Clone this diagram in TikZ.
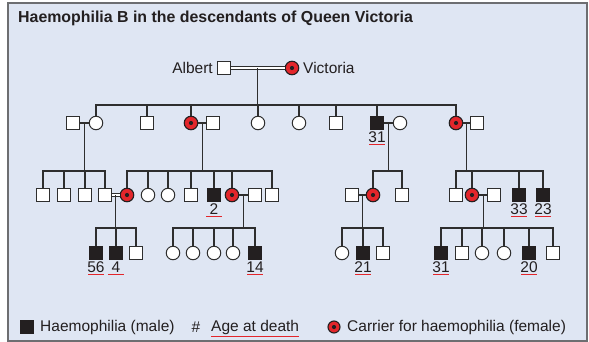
\documentclass[tikz,border=0pt]{standalone}
\usepackage{fontspec}
\setmainfont{Liberation Sans}
\usetikzlibrary{calc}
\definecolor{bg}{HTML}{DFE6F3}
\definecolor{framec}{HTML}{6D6E71}
\definecolor{ln}{HTML}{2E2E2E}
\definecolor{aff}{HTML}{231F20}
\definecolor{car}{HTML}{E3262B}
\begin{document}
\begin{tikzpicture}[x=1pt,y=-1pt,
  male/.style={rectangle,draw=ln,line width=1pt,fill=white,minimum size=12.5pt,inner sep=0pt},
  hemo/.style={male,fill=aff,draw=aff},
  female/.style={circle,draw=ln,line width=1pt,fill=white,minimum size=13.5pt,inner sep=0pt},
  carrier/.style={circle,draw=aff,line width=1.1pt,fill=car,minimum size=13.5pt,inner sep=0pt,
    path picture={\fill[aff] (path picture bounding box.center) circle (2.1pt);}},
  rel/.style={draw=ln,line width=1.35pt},
  dbl/.style={draw=ln,line width=1pt,double=white,double distance=2pt},
  txt/.style={font=\fontsize{15.5}{18}\selectfont,inner sep=0pt,text=aff},
  uline/.style={draw=car,line width=1pt}
]
\useasboundingbox (0,0) rectangle (589,342);
\draw[draw=framec,line width=1.5pt,fill=bg] (8,3) rectangle (587,341);

% title
\node[txt,font=\bfseries\fontsize{15.9}{18}\selectfont,anchor=base west] (title) at (18,23) {Haemophilia B in the descendants of Queen Victoria};

% generation I
\node[male] (g1m) at (224,68) {};
\node[carrier] (g1f) at (292,68) {};
\node[txt,anchor=east] (albert) at (213,68) {Albert};
\node[txt,anchor=west] (victoria) at (303,68) {Victoria};

% generation II (y=123)
\foreach \n/\s/\x in {b1/male/73,b2/female/96,b3/male/147,b4/carrier/191,b5/male/213,
  b6/female/258,b7/female/299,b8/male/336,b9/hemo/377,b10/female/400,b11/carrier/456,b12/male/477}
  \node[\s] (\n) at (\x,123) {};

% generation III (y=195)
\foreach \n/\s/\x in {c1/male/43,c2/male/64,c3/male/85,c4/male/105,c5/carrier/127,c6/female/148,
  c7/female/168,c8/male/191,c9/hemo/214,c10/carrier/232,c11/male/255,c12/male/272,
  c13/male/352,c14/carrier/373,c15/male/402,c16/male/456,c17/carrier/472,c18/male/494,
  c19/hemo/519,c20/hemo/543}
  \node[\s] (\n) at (\x,195) {};

% generation IV (y=253)
\foreach \n/\s/\x in {d1/hemo/96,d2/hemo/116,d3/male/136,d4/female/173,d5/female/193,
  d6/female/214,d7/female/233,d8/hemo/255,d9/female/342,d10/hemo/363,d11/male/383,
  d12/hemo/441,d13/male/462,d14/female/482,d15/female/504,d16/hemo/529,d17/male/553}
  \node[\s] (\n) at (\x,253) {};

% marriages
\draw[dbl] (g1m.east) -- (g1f.west);
\draw[dbl] (c4.east) -- (c5.west);
\foreach \a/\b in {b1/b2,b4/b5,b9/b10,b11/b12,c10/c11,c13/c14,c17/c18}
  \draw[rel] (\a.east) -- (\b.west);

% sibship levels
\coordinate (s0) at (0,105);
\coordinate (s1) at (0,171);
\coordinate (s2) at (0,228);

% descent lines
\foreach \a/\b/\s in {g1m/g1f/s0,b1/b2/s1,b4/b5/s1,b9/b10/s1,b11/b12/s1,c4/c5/s2,c10/c11/s2,c13/c14/s2,c17/c18/s2}{
  \coordinate (m\a) at ($(\a.east)!0.5!(\b.west)$);
  \draw[rel] (m\a) -- (m\a |- \s);
}

% sibship lines
\foreach \l/\r/\s in {b2/b11/s0,c1/c4/s1,c5/c12/s1,c14/c15/s1,c16/c20/s1,d1/d3/s2,d4/d8/s2,d9/d11/s2,d12/d17/s2}
  \draw[rel,line cap=rect] (\l |- \s) -- (\r |- \s);

% drops
\foreach \c in {b2,b3,b4,b6,b7,b8,b9,b11}
  \draw[rel] (\c |- s0) -- (\c.north);
\foreach \c in {c1,c2,c3,c4,c5,c6,c7,c8,c9,c10,c12,c14,c15,c16,c17,c19,c20}
  \draw[rel] (\c |- s1) -- (\c.north);
\foreach \c in {d1,d2,d3,d4,d5,d6,d7,d8,d9,d10,d11,d12,d13,d14,d15,d16,d17}
  \draw[rel] (\c |- s2) -- (\c.north);

% ages at death
\foreach \c/\v in {b9/31,c9/2,c19/33,c20/23,d1/56,d2/4,d8/14,d10/21,d12/31,d16/20}{
  \node[txt] (age\c) at ($(\c)+(0,14)$) {\v};
  \draw[uline] ($(age\c)+(-8,7.5)$) -- ($(age\c)+(8,7.5)$);
}

% legend
\node[hemo] (lg1) at (27,327) {};
\node[txt,anchor=west] (lgt1) at (40,327) {Haemophilia (male)};
\node[txt] (lgt2) at (196,327) {\#};
\node[txt,anchor=west] (lgt3) at (211,327) {Age at death};
\draw[uline] (lgt3.south west) ++(0,2.5) -- ($(lgt3.south east)+(0,2.5)$);
\node[carrier,minimum size=12pt] (lg2) at (334,327) {};
\node[txt,anchor=west] (lgt4) at (347,327) {Carrier for haemophilia (female)};
\end{tikzpicture}
\end{document}
